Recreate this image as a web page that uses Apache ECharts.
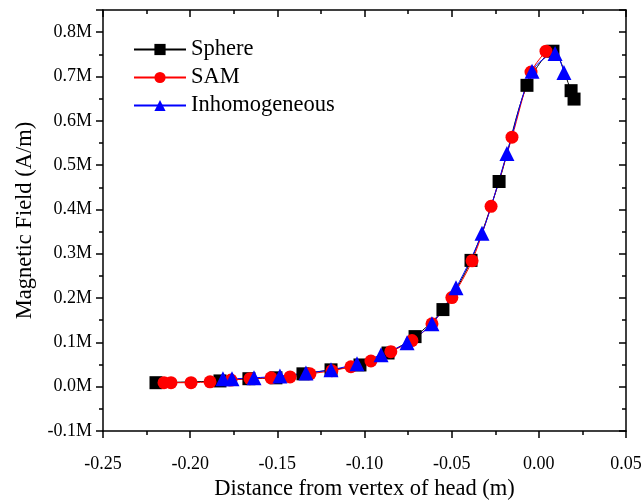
<!DOCTYPE html>
<html>
<head>
<meta charset="utf-8">
<script src="https://cdn.jsdelivr.net/npm/echarts@6/dist/echarts.min.js"></script>
<style>html,body{margin:0;padding:0;background:#fff}#c{width:642px;height:500px}</style>
</head>
<body>
<div id="c"></div>
<script>
var sphereX = [-0.2196, -0.1829, -0.1663, -0.1508, -0.1353, -0.1192, -0.1026, -0.0865, -0.0710, -0.0550, -0.0389, -0.0228, -0.0068, 0.0081, 0.0185, 0.0202];
var sphereY = [0.009, 0.013, 0.018, 0.020, 0.029, 0.038, 0.049, 0.076, 0.113, 0.174, 0.285, 0.463, 0.680, 0.757, 0.668, 0.649];
var samX = [-0.2150, -0.2110, -0.1995, -0.1886, -0.1766, -0.1657, -0.1536, -0.1427, -0.1313, -0.1187, -0.1078, -0.0963, -0.0849, -0.0728, -0.0613, -0.0499, -0.0383, -0.0274, -0.0154, -0.0045, 0.0041];
var samY = [0.009, 0.009, 0.009, 0.011, 0.015, 0.018, 0.020, 0.022, 0.029, 0.036, 0.045, 0.058, 0.079, 0.104, 0.142, 0.201, 0.284, 0.407, 0.563, 0.710, 0.757];
var inhoX = [-0.1812, -0.1760, -0.1634, -0.1485, -0.1336, -0.1192, -0.1043, -0.0905, -0.0756, -0.0613, -0.0475, -0.0326, -0.0183, -0.0039, 0.0093, 0.0144];
var inhoY = [0.018, 0.018, 0.020, 0.024, 0.031, 0.038, 0.052, 0.072, 0.099, 0.142, 0.223, 0.346, 0.526, 0.712, 0.752, 0.709];
var seriesNames = ['Sphere', 'SAM', 'Inhomogeneous'];
var xTitle = 'Distance from vertex of head (m)';
var yTitle = 'Magnetic Field (A/m)';

function pairs(xs, ys) { return xs.map(function (x, i) { return [x, ys[i]]; }); }

var font = 'Liberation Serif, Times New Roman, serif';
var chart = echarts.init(document.getElementById('c'), null, {renderer: 'canvas'});
var axisLine = {show: true, onZero: false, lineStyle: {color: '#000', width: 1.5}};
chart.setOption({
  animation: false,
  backgroundColor: '#fff',
  textStyle: {fontFamily: font},
  grid: {left: 103, right: 16, top: 10, bottom: 69, containLabel: false, outerBoundsMode: 'none'},
  legend: {
    left: 128, top: 33, orient: 'vertical', itemGap: 5,
    itemWidth: 52, itemHeight: 14,
    textStyle: {fontFamily: font, fontSize: 22.5, color: '#000'},
    data: seriesNames
  },
  xAxis: [{
    type: 'value', min: -0.25, max: 0.05, interval: 0.05, position: 'bottom',
    name: xTitle, nameLocation: 'middle', nameGap: 46,
    nameTextStyle: {fontFamily: font, fontSize: 22.5, color: '#000'},
    axisLine: axisLine,
    axisTick: {show: true, inside: false, length: 7, lineStyle: {color: '#000', width: 1.5}},
    minorTick: {show: true, splitNumber: 2, length: 4, lineStyle: {color: '#000', width: 1.5}},
    splitLine: {show: false},
    axisLabel: {fontFamily: font, fontSize: 18, color: '#000', margin: 24,
      formatter: function (v) { return v.toFixed(2); }}
  }, {
    type: 'value', min: -0.25, max: 0.05, interval: 0.05, position: 'top',
    axisLine: axisLine,
    axisTick: {show: true, inside: true, length: 7, lineStyle: {color: '#000', width: 1.5}},
    minorTick: {show: true, splitNumber: 2, length: 4, lineStyle: {color: '#000', width: 1.5}},
    splitLine: {show: false}, axisLabel: {show: false}
  }],
  yAxis: [{
    type: 'value', min: -0.1, max: 0.85, interval: 0.1, position: 'left',
    name: yTitle, nameLocation: 'middle', nameGap: 64,
    nameTextStyle: {fontFamily: font, fontSize: 22.5, color: '#000'},
    axisLine: axisLine,
    axisTick: {show: true, inside: false, length: 7, lineStyle: {color: '#000', width: 1.5}},
    minorTick: {show: true, splitNumber: 2, length: 4, lineStyle: {color: '#000', width: 1.5}},
    splitLine: {show: false},
    axisLabel: {fontFamily: font, fontSize: 18, color: '#000', margin: 11, showMaxLabel: false,
      formatter: function (v) { return v.toFixed(1) + 'M'; }}
  }, {
    type: 'value', min: -0.1, max: 0.85, interval: 0.1, position: 'right',
    axisLine: axisLine,
    axisTick: {show: true, inside: true, length: 7, lineStyle: {color: '#000', width: 1.5}},
    minorTick: {show: true, splitNumber: 2, length: 4, lineStyle: {color: '#000', width: 1.5}},
    splitLine: {show: false}, axisLabel: {show: false}
  }],
  series: [{
    name: seriesNames[0], type: 'line', data: pairs(sphereX, sphereY),
    smooth: 0.3, symbol: 'rect', symbolSize: 13,
    itemStyle: {color: '#000'}, lineStyle: {color: '#000', width: 1}
  }, {
    name: seriesNames[1], type: 'line', data: pairs(samX, samY),
    smooth: 0.3, symbol: 'circle', symbolSize: 13,
    itemStyle: {color: '#ff0000'}, lineStyle: {color: '#ff0000', width: 1}
  }, {
    name: seriesNames[2], type: 'line', data: pairs(inhoX, inhoY),
    smooth: 0.3, symbol: 'triangle', symbolSize: 15,
    itemStyle: {color: '#0000ff'}, lineStyle: {color: '#0000ff', width: 1}
  }]
});
</script>
</body>
</html>
